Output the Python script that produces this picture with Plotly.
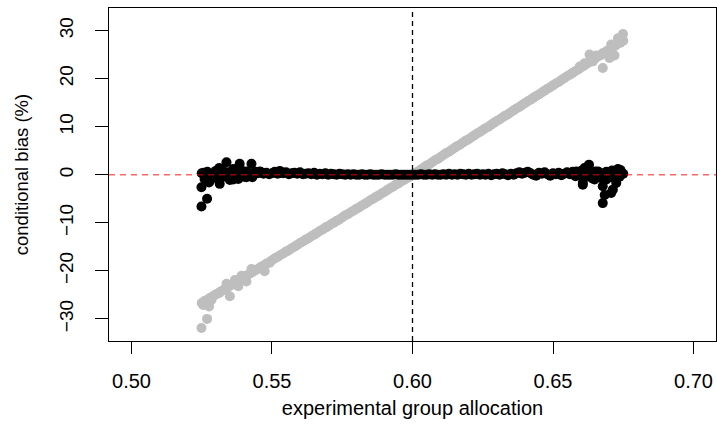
import plotly.graph_objects as go

# ---- data ----
x_grid = [0.525, 0.526, 0.527, 0.528, 0.529, 0.530, 0.531, 0.532, 0.533, 0.534,
          0.535, 0.536, 0.537, 0.538, 0.539, 0.540, 0.541, 0.542, 0.543, 0.544,
          0.545, 0.546, 0.547, 0.548, 0.549, 0.550, 0.551, 0.552, 0.553, 0.554,
          0.555, 0.556, 0.557, 0.558, 0.559, 0.560, 0.561, 0.562, 0.563, 0.564,
          0.565, 0.566, 0.567, 0.568, 0.569, 0.570, 0.571, 0.572, 0.573, 0.574,
          0.575, 0.576, 0.577, 0.578, 0.579, 0.580, 0.581, 0.582, 0.583, 0.584,
          0.585, 0.586, 0.587, 0.588, 0.589, 0.590, 0.591, 0.592, 0.593, 0.594,
          0.595, 0.596, 0.597, 0.598, 0.599, 0.600,
          0.601, 0.602, 0.603, 0.604, 0.605, 0.606, 0.607, 0.608, 0.609, 0.610,
          0.611, 0.612, 0.613, 0.614, 0.615, 0.616, 0.617, 0.618, 0.619, 0.620,
          0.621, 0.622, 0.623, 0.624, 0.625, 0.626, 0.627, 0.628, 0.629, 0.630,
          0.631, 0.632, 0.633, 0.634, 0.635, 0.636, 0.637, 0.638, 0.639, 0.640,
          0.641, 0.642, 0.643, 0.644, 0.645, 0.646, 0.647, 0.648, 0.649, 0.650,
          0.651, 0.652, 0.653, 0.654, 0.655, 0.656, 0.657, 0.658, 0.659, 0.660,
          0.661, 0.662, 0.663, 0.664, 0.665, 0.666, 0.667, 0.668, 0.669, 0.670,
          0.671, 0.672, 0.673, 0.674, 0.675]

gray_main = [-26.7, -26.3, -26.0, -25.6, -25.3, -24.9, -24.6, -24.2, -23.9, -23.5,
             -23.1, -22.8, -22.4, -22.1, -21.7, -21.4, -21.0, -20.6, -20.3, -19.9,
             -19.6, -19.2, -18.9, -18.5, -18.2, -17.8, -17.4, -17.1, -16.7, -16.4,
             -16.0, -15.7, -15.3, -15.0, -14.6, -14.2, -13.9, -13.5, -13.2, -12.8,
             -12.5, -12.1, -11.7, -11.4, -11.0, -10.7, -10.3, -10.0, -9.6, -9.3,
             -8.9, -8.5, -8.2, -7.8, -7.5, -7.1, -6.8, -6.4, -6.1, -5.7,
             -5.3, -5.0, -4.6, -4.3, -3.9, -3.6, -3.2, -2.8, -2.5, -2.1,
             -1.8, -1.4, -1.1, -0.7, -0.4, 0.0,
             0.4, 0.7, 1.1, 1.5, 1.9, 2.2, 2.6, 3.0, 3.3, 3.7,
             4.1, 4.5, 4.8, 5.2, 5.6, 6.0, 6.3, 6.7, 7.1, 7.4,
             7.8, 8.2, 8.6, 8.9, 9.3, 9.7, 10.0, 10.4, 10.8, 11.2,
             11.5, 11.9, 12.3, 12.6, 13.0, 13.4, 13.8, 14.1, 14.5, 14.9,
             15.3, 15.6, 16.0, 16.4, 16.7, 17.1, 17.5, 17.9, 18.2, 18.6,
             19.0, 19.3, 19.7, 20.1, 20.5, 20.8, 21.2, 21.6, 21.9, 22.3,
             22.7, 23.1, 23.4, 23.8, 24.2, 24.6, 24.9, 25.3, 25.7, 26.0,
             26.4, 26.8, 27.2, 27.5, 27.9]

black_main = [0.3, -0.9, 0.6, -1.2, 0.2, 0.8, -0.7, 1.1, -0.3, 0.5,
              -1.1, 0.9, 0.1, -0.6, 1.0, -0.4, 0.7, 0.2, -0.5, 0.6,
              0.3, 0.5, 0.2, 0.4, 0.1, 0.3, 0.6, 0.2, 0.4, 0.3,
              0.5, 0.1, 0.3, 0.4, 0.2, 0.5, 0.1, 0.2, 0.3, 0.1,
              0.4, 0.0, 0.2, 0.1, 0.3, 0.0, 0.2, 0.1, 0.0, 0.2,
              0.1, 0.0, 0.1, 0.0, 0.1, 0.0, 0.0, 0.1, 0.0, 0.0,
              0.1, 0.0, 0.0, 0.0, 0.1, 0.0, 0.0, 0.0, 0.0, 0.1,
              0.0, 0.0, 0.0, 0.0, 0.0, 0.0,
              0.0, 0.0, 0.1, 0.0, 0.0, 0.1, 0.0, 0.1, 0.0, 0.0,
              0.1, 0.0, 0.2, 0.0, 0.1, 0.0, 0.2, 0.1, 0.0, 0.2,
              0.0, 0.1, 0.2, 0.0, 0.1, 0.0, 0.2, -0.1, 0.1, 0.2,
              0.0, 0.3, 0.1, -0.1, 0.2, 0.0, 0.3, 0.5, 0.2, 0.4,
              0.6, 0.3, 0.0, -0.2, 0.4, 0.2, 0.5, 0.1, -0.2, 0.3,
              0.1, 0.4, -0.1, 0.2, 0.5, 0.1, 0.6, -0.3, 0.4, 0.8,
              -0.6, 0.5, 0.2, -0.8, 0.7, -0.4, 0.3, -1.1, 0.6, -0.5,
              0.9, -0.7, 0.4, 0.8, 0.2]

gray_extra_x = [0.5249, 0.5269, 0.5255, 0.5276, 0.5285, 0.5312, 0.5338, 0.5350,
                0.5368, 0.5380, 0.5392, 0.5409, 0.5427, 0.5457, 0.5474, 0.5492,
                0.6749, 0.6731, 0.6707, 0.6719, 0.6701, 0.6677, 0.6677, 0.6630,
                0.6642, 0.6654, 0.6612, 0.6595]
gray_extra_y = [-31.9, -30.0, -27.1, -27.4, -26.0, -24.6, -22.7, -25.3,
                -21.9, -23.2, -21.0, -22.2, -19.6, -19.4, -20.1, -18.3,
                29.3, 28.4, 27.1, 24.8, 24.3, 22.2, 25.3, 25.0,
                23.6, 24.8, 23.2, 22.5]

black_extra_x = [0.5249, 0.5269, 0.5249, 0.5257, 0.5276, 0.5297, 0.5314, 0.5338,
                 0.5350, 0.5362, 0.5385, 0.5389, 0.5380, 0.5409, 0.5427, 0.5457,
                 0.5312, 0.5326, 0.5362, 0.5528,
                 0.6628, 0.6677, 0.6707, 0.6684, 0.6677, 0.6731, 0.6737, 0.6606,
                 0.6583, 0.6636, 0.6648, 0.6707, 0.6725, 0.6660, 0.6690, 0.6612,
                 0.6713, 0.6740, 0.6606]
black_extra_y = [-6.6, -5.0, -2.6, 0.4, -1.6, -0.5, -1.9, 2.6,
                 0.4, 1.2, 2.3, 0.4, -0.9, -0.5, 2.3, 0.7,
                 1.4, -0.4, -1.0, 0.8,
                 2.1, -5.9, -3.8, -4.2, -2.4, 1.2, -0.4, -1.7,
                 0.7, 0.0, -1.0, 0.4, -1.7, 0.7, -1.0, 1.4,
                 -3.1, 1.0, -2.1]

x_ticks = [0.50, 0.55, 0.60, 0.65, 0.70]
x_tick_labels = ["0.50", "0.55", "0.60", "0.65", "0.70"]
y_ticks = [-30, -20, -10, 0, 10, 20, 30]
y_tick_labels = ["\u221230", "\u221220", "\u221210", "0", "10", "20", "30"]
x_title = "experimental group allocation"
y_title = "conditional bias (%)"
target_allocation = 0.60

FONT = "Liberation Sans, Arial, Helvetica, sans-serif"

fig = go.Figure()
fig.add_trace(go.Scatter(
    x=x_grid + gray_extra_x, y=gray_main + gray_extra_y, mode="markers",
    marker=dict(color="#BEBEBE", size=10, line=dict(width=0)),
    showlegend=False, hoverinfo="skip"))
fig.add_trace(go.Scatter(
    x=x_grid + black_extra_x, y=black_main + black_extra_y, mode="markers",
    marker=dict(color="black", size=10, line=dict(width=0)),
    showlegend=False, hoverinfo="skip"))

fig.add_shape(type="line", xref="x", yref="paper", x0=target_allocation,
              x1=target_allocation, y0=0, y1=1,
              line=dict(color="black", width=1.3, dash="5px,4px"))
fig.add_shape(type="line", xref="paper", yref="y", x0=0, x1=1, y0=0, y1=0,
              line=dict(color="rgba(255,0,0,0.6)", width=1.6, dash="6px,5px"))

fig.update_layout(
    width=717, height=425,
    margin=dict(l=109, r=1, t=8, b=84),
    paper_bgcolor="white", plot_bgcolor="white",
    font=dict(family=FONT, color="black", size=19),
    showlegend=False,
)
fig.update_xaxes(
    range=[0.492, 0.708], tickvals=x_ticks, ticktext=x_tick_labels,
    automargin=False,
    showgrid=False, zeroline=False, showline=True, mirror=True,
    linecolor="black", linewidth=1, ticks="outside", ticklen=12,
    tickcolor="black", tickwidth=1, ticklabelstandoff=10,
    tickfont=dict(family=FONT, size=20),
    title=dict(text=x_title, font=dict(family=FONT, size=20), standoff=9),
)
fig.update_yaxes(
    range=[-34.6, 34.7], tickvals=y_ticks, ticktext=y_tick_labels,
    tickangle=-90, automargin=False,
    showgrid=False, zeroline=False, showline=True, mirror=True,
    linecolor="black", linewidth=1, ticks="outside", ticklen=13,
    tickcolor="black", tickwidth=1, ticklabelstandoff=14,
    tickfont=dict(family=FONT, size=19),
    title=dict(text=y_title, font=dict(family=FONT, size=18.5), standoff=22),
)

fig.write_html(
    "out.html",
    config={"displayModeBar": False},
    post_script="document.body.style.margin='0';document.body.style.overflow='hidden';",
)
